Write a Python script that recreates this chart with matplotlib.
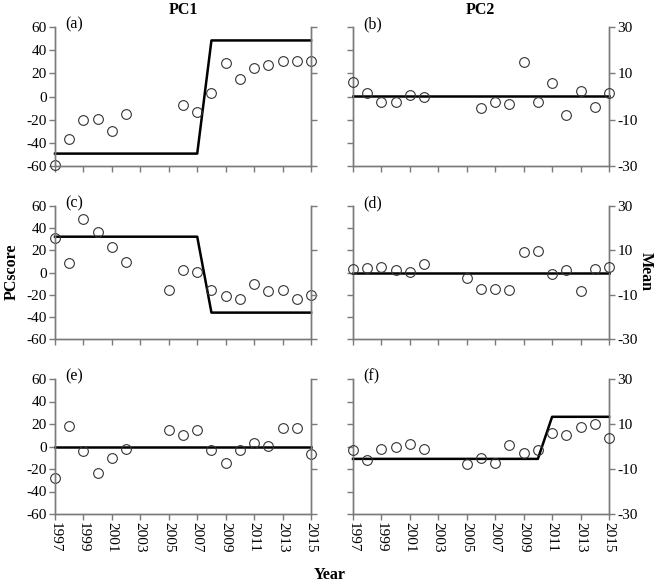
#PC scores by year with step means (six panels)
import matplotlib
matplotlib.use("Agg")
import matplotlib.pyplot as plt
import numpy as np

plt.rcParams["font.family"] = ["Liberation Serif", "DejaVu Serif"]
plt.rcParams["axes.unicode_minus"] = False

#data
years_ab = [1997, 1998, 1999, 2000, 2001, 2002, 2006, 2007, 2008, 2009, 2010, 2011, 2012, 2013, 2014, 2015]
years_cf = [1997, 1998, 1999, 2000, 2001, 2002, 2005, 2006, 2007, 2008, 2009, 2010, 2011, 2012, 2013, 2014, 2015]

pc1_a = [-59.5, -36.7, -20.7, -19.0, -29.4, -15.2, -7.0, -13.1, 2.9, 29.2, 15.5, 24.5, 27.1, 30.9, 30.9, 30.6]
pc2_b = [6.4, 1.4, -2.5, -2.5, 0.7, -0.4, -4.8, -2.2, -3.3, 15.1, -2.3, 5.8, -8.1, 2.2, -4.5, 1.4]
pc1_c = [30.8, 8.4, 47.9, 36.5, 22.6, 9.9, -15.4, 2.4, 0.9, -15.4, -21.1, -24.1, -10.6, -16.3, -15.4, -23.8, -20.2]
pc2_d = [1.5, 1.9, 2.5, 1.0, 0.3, 3.7, -2.5, -7.3, -7.5, -8.1, 9.1, 9.6, -0.6, 1.0, -8.2, 1.5, 2.7]
pc1_e = [-28.0, 18.5, -4.2, -23.5, -10.1, -1.8, 14.9, 9.8, 14.6, -2.7, -14.6, -3.3, 2.7, 0.6, 16.1, 16.1, -6.8]
pc2_f = [-1.5, -6.1, -1.2, -0.4, 1.2, -1.0, -7.6, -5.2, -7.3, 0.6, -3.1, -1.6, 5.9, 5.1, 8.5, 9.8, 3.7]

#step means: (year, mean)
mean_a = ([1997, 2007, 2008, 2015], [-49.3, -49.3, 48.4, 48.4])
mean_b = ([1997, 2015], [0.3, 0.3])
mean_c = ([1997, 2007, 2008, 2015], [32.3, 32.3, -36.2, -36.2])
mean_d = ([1997, 2015], [0.0, 0.0])
mean_e = ([1997, 2015], [0.0, 0.0])
mean_f = ([1997, 2010, 2011, 2015], [-5.5, -5.5, 13.2, 13.2])

panels = [
    ("(a)", years_ab, pc1_a, mean_a, "left"),
    ("(b)", years_ab, pc2_b, mean_b, "right"),
    ("(c)", years_cf, pc1_c, mean_c, "left"),
    ("(d)", years_cf, pc2_d, mean_d, "right"),
    ("(e)", years_cf, pc1_e, mean_e, "left"),
    ("(f)", years_cf, pc2_f, mean_f, "right"),
]

W, H = 658, 585
fig = plt.figure(figsize=(W / 100, H / 100), dpi=100)

col_x = {"left": 55, "right": 353}
row_y = [(27, 166), (206, 339), (379, 514)]
axw = 256
gray = "#7a7a7a"

for i, (lab, yrs, vals, mean, side) in enumerate(panels):
    top, bot = row_y[i // 2]
    ax = fig.add_axes([col_x[side] / W, 1 - bot / H, axw / W, (bot - top) / H])
    ax2 = ax.twinx()
    ax.set_xlim(1997, 2015)
    ax.set_ylim(-60, 60)
    ax2.set_ylim(-30, 30)
    ax.set_yticks(np.arange(-60, 61, 20))
    ax2.set_yticks([-30, -10, 10, 30])
    ax.set_xticks(np.arange(1997, 2016, 2))
    for a in (ax, ax2):
        a.spines["top"].set_visible(False)
        for s in ("left", "right", "bottom"):
            a.spines[s].set_color(gray)
            a.spines[s].set_linewidth(1.0)
        a.tick_params(direction="out", length=4, width=1, color=gray, labelsize=11, pad=2)
    ax.set_xticklabels([str(y) for y in range(1997, 2016, 2)], rotation=-90)

    if side == "left":
        target = ax
        ax2.set_yticklabels([])
    else:
        target = ax2
        ax.set_yticklabels([])
    if i < 4:
        ax.set_xticklabels([])

    target.plot(mean[0], mean[1], color="black", lw=1.8, zorder=2, clip_on=False)
    target.plot(yrs, vals, "o", ms=7, mfc="none", mec="#333333", mew=0.8, zorder=3, clip_on=False)
    ax.text(0.04, 1.02, lab, transform=ax.transAxes, fontsize=11.5, va="center", ha="left")

fig.text(183 / W, 1 - 10 / H, "PC1", fontsize=11.5, fontweight="bold", ha="center", va="center")
fig.text(480 / W, 1 - 10 / H, "PC2", fontsize=11.5, fontweight="bold", ha="center", va="center")
fig.text(12 / W, 1 - 272 / H, "PCscore", fontsize=11.5, fontweight="bold", rotation=90, ha="center", va="center")
fig.text(646 / W, 1 - 272 / H, "Mean", fontsize=11.5, fontweight="bold", rotation=-90, ha="center", va="center")
fig.text(330 / W, 1 - 575 / H, "Year", fontsize=11.5, fontweight="bold", ha="center", va="center")

fig.savefig("out.png", dpi=100)
